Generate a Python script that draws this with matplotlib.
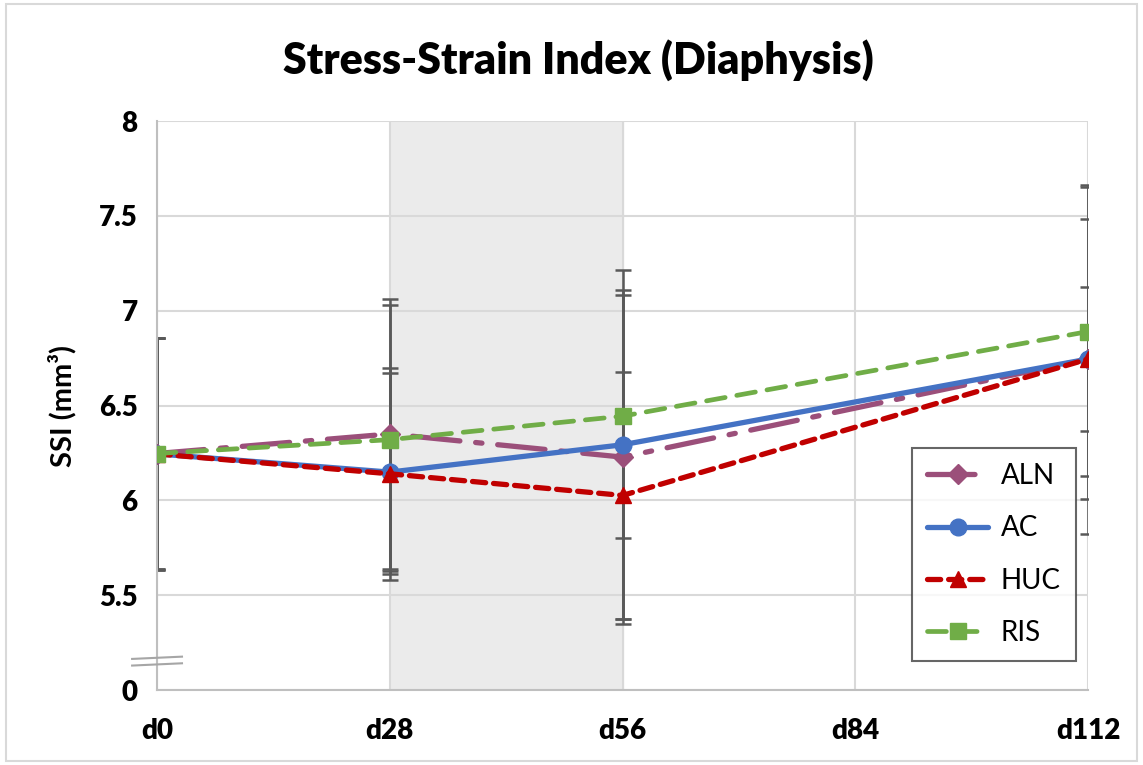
import matplotlib
matplotlib.use('Agg')
import matplotlib.pyplot as plt
from matplotlib.patches import Rectangle
import numpy as np

plt.rcParams['font.family'] = ['Lato', 'DejaVu Sans']

days = ['d0', 'd28', 'd56', 'd84', 'd112']
x_days = [0, 28, 56, 112]

aln = [6.247, 6.35, 6.228, 6.745]
ac = [6.245, 6.149, 6.293, 6.745]
huc = [6.245, 6.14, 6.026, 6.745]
ris = [6.247, 6.32, 6.444, 6.89]

aln_err = [0.61, 0.71, 0.88, 0.74]
ac_err = [0.61, 0.52, 0.92, 0.92]
huc_err = [0.61, 0.56, 0.65, 0.38]
ris_err = [0.61, 0.71, 0.64, 0.76]

y_ticks = [5.0, 5.5, 6.0, 6.5, 7.0, 7.5, 8.0]
y_labels = ['0', '5.5', '6', '6.5', '7', '7.5', '8']

fig = plt.figure(figsize=(11.43, 7.65), dpi=100)
ax = fig.add_axes([0.1374, 0.098, 0.8145, 0.7438])

ax.axvspan(28, 56, color='#EBEBEB', zorder=0)

series = [
    ('ALN', aln, aln_err, '#9B4F7A', (0, (9, 3, 1.2, 3)), 'D', 10),
    ('AC', ac, ac_err, '#4472C4', '-', 'o', 12),
    ('HUC', huc, huc_err, '#C00000', (0, (2.5, 1.5)), '^', 11),
    ('RIS', ris, ris_err, '#70AD47', (0, (4, 2.5)), 's', 11),
]

for name, vals, err, col, ls, mk, ms in series:
    ax.errorbar(x_days, vals, yerr=err, fmt='none', ecolor='#595959',
                elinewidth=1.8, capsize=6, capthick=1.8, zorder=2)

for name, vals, err, col, ls, mk, ms in series:
    lw = 3.8 if name != 'RIS' else 3.4
    ax.plot(x_days, vals, color=col, linestyle=ls, linewidth=lw,
            marker=mk, markersize=ms, label=name, zorder=3,
            dash_capstyle='round', solid_capstyle='round')

ax.set_xlim(0, 112)
ax.set_ylim(5.0, 8.0)
ax.tick_params(axis='y', length=0, pad=14)
ax.tick_params(axis='x', length=0, pad=20)
ax.set_xticks([0, 28, 56, 84, 112])
ax.set_xticklabels(days, fontsize=20, fontweight='heavy')
ax.set_yticks(y_ticks)
ax.set_yticklabels(y_labels, fontsize=20, fontweight='heavy')

ax.grid(True, color='#D9D9D9', linewidth=1.5, zorder=1)
ax.set_axisbelow(True)
for s in ['top', 'right']:
    ax.spines[s].set_visible(False)
for s in ['left', 'bottom']:
    ax.spines[s].set_color('#BFBFBF')
    ax.spines[s].set_linewidth(1.5)

# axis break marks
brk = 5.17
for dy in (0.0, -0.035):
    ax.plot([-3, 3], [brk + dy - 0.006, brk + dy + 0.006], color='#A6A6A6',
            linewidth=1.5, clip_on=False, zorder=5)

ax.set_ylabel('SSI (mm³)', fontsize=21, fontweight='bold', labelpad=16)
fig.text(0.506, 0.922, 'Stress-Strain Index (Diaphysis)', fontsize=31,
         fontweight='heavy', ha='center', va='center')

leg = ax.legend(loc='lower right', bbox_to_anchor=(1.002, 0.026), fontsize=20,
                frameon=True, fancybox=False, edgecolor='#404040', handlelength=2.2,
                labelspacing=0.95, borderpad=0.55, handletextpad=0.45)
leg.get_frame().set_linewidth(1.5)

fig.patches.append(Rectangle((0.005, 0.005), 0.99, 0.99, transform=fig.transFigure,
                             fill=False, edgecolor='#D9D9D9', linewidth=1.5))

fig.savefig('out.png', dpi=100)
